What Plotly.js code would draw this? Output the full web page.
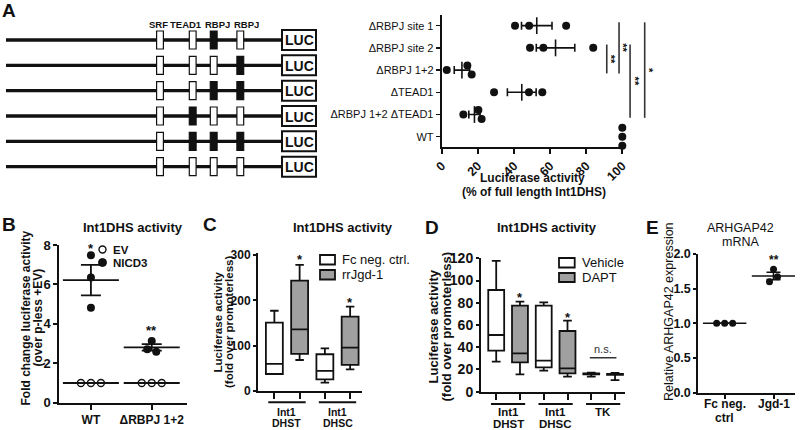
<!DOCTYPE html>
<html><head><meta charset="utf-8">
<script src="https://cdn.plot.ly/plotly-3.0.1.min.js"></script>
<style>html,body{margin:0;padding:0;background:#fff}#chart{width:800px;height:430px}</style>
</head><body><div id="chart"></div>
<script>
// ================= DATA =================
// Panel A (rows listed bottom -> top on the y axis)
const aCategories = ['WT', 'ΔRBPJ 1+2 ΔTEAD1', 'ΔTEAD1', 'ΔRBPJ 1+2', 'ΔRBPJ site 2', 'ΔRBPJ site 1'];
const aWT = [100, 100, 100];
const aRbpj12Tead1 = [12.0, 20.3, 22.1];
const aTead1 = [29.0, 48.3, 55.7];
const aRbpj12 = [2.8, 14.2, 16.6];
const aSite2 = [48.9, 56.3, 83.9];
const aSite1 = [40.6, 48.4, 68.9];
const aXTicks = [0, 20, 40, 60, 80, 100];
const aXTitle = ['Luciferase activity', '(% of full length Int1DHS)'];
// significance brackets: [upper row index, lower row index, x position (%), label]
const aSigTop = [4, 5, 4, 5];
const aSigBottom = [3, 3, 1, 1];
const aSigX = [91.4, 98.2, 104.3, 112.4];
const aSigText = ['**', '**', '**', '*'];
// construct schematic (top -> bottom), 1 = mutated site (black)
const siteNames = ['SRF', 'TEAD1', 'RBPJ', 'RBPJ'];
const schematicRows = [[0,0,1,0],[0,0,0,1],[0,0,1,1],[0,1,0,0],[0,1,1,1],[0,0,0,0]];
const reporterName = 'LUC';

// Panel B
const bCategories = ['WT', 'ΔRBPJ 1+2'];
const bEV_WT = [1, 1, 1];
const bEV_Del = [1, 1, 1];
const bNICD3_WT = [7.48, 6.35, 4.82];
const bNICD3_Del = [3.13, 2.71, 2.59];
const bSigText = ['*', '**'];
const bSigY = [8.0, 3.79];
const bSeries = ['EV', 'NICD3'];

// Panel C (box stats)
const cGroups = ['DHST', 'DHSC'];
const cSeries = ['Fc neg. ctrl.', 'rrJgd-1'];
const cYTicks = [0, 100, 200, 300];
const cFcLower = [37.5, 18.4], cFcQ1 = [37.5, 25.8], cFcMedian = [59.6, 44.2], cFcQ3 = [150.8, 81.0], cFcUpper = [177, 94.2];
const cJgLower = [68.4, 47.9], cJgQ1 = [81.7, 57.4], cJgMedian = [136, 95.6], cJgQ3 = [243.5, 164], cJgUpper = [278, 186];
const cSigY = [296, 201];

// Panel D (box stats)
const dGroups = ['DHST', 'DHSC', 'TK'];
const dGroupPrefix = ['Int1', 'Int1', ''];
const dSeries = ['Vehicle', 'DAPT'];
const dVehLower = [27.0, 18.9, 13.5], dVehQ1 = [36.9, 21.9, 15.5], dVehMedian = [51.0, 27.9, 16.0], dVehQ3 = [91.5, 77.4, 16.5], dVehUpper = [117.6, 80.4, 17.1];
const dDaLower = [15.6, 13.5, 10.5], dDaQ1 = [26.4, 16.5, 15.2], dDaMedian = [34.5, 21.0, 15.6], dDaQ3 = [77.4, 54.6, 16.0], dDaUpper = [81.0, 63.9, 17.0];
const dSigText = ['*', '*', 'n.s.'];
const dSigY = [87, 69, 38];
const dNsLineY = 30.6;

// Panel E
const eCategories = ['Fc neg.', 'Jgd-1'];
const eCategories2 = ['ctrl', ''];
const eFc = [1, 1, 1];
const eJgd = [1.78, 1.67, 1.60];
const eSigY = 1.96;

// ================= HELPERS =================
const W = 800, H = 430;
const FONT = 'Liberation Sans, Arial, Helvetica, sans-serif';
const NARROW = 'Liberation Sans Narrow, Liberation Sans, Arial, sans-serif';
const INK = '#111111';
const GRAY = '#a0a0a0';

// panel frames (pixels) and ranges
const P = {
  A: {ax: '', dx: [441.7, 622.3], dy: [15, 146.7], rx: [0, 100], ry: [-0.45, 5.48]},
  B: {ax: '2', dx: [59.3, 187], dy: [245, 402.7], rx: [-0.52, 1.58], ry: [0, 8]},
  C: {ax: '3', dx: [258, 362], dy: [255, 391], rx: [-0.574, 1.485], ry: [0, 305]},
  D: {ax: '4', dx: [481, 625], dy: [258.3, 391.7], rx: [-0.57, 2.46], ry: [0, 120]},
  E: {ax: '5', dx: [698.3, 795], dy: [254, 392.6], rx: [-0.54, 1.44], ry: [0, 2]}
};
P.C.dy = [252.7, 391];
const pxPerX = p => (P[p].dx[1] - P[p].dx[0]) / (P[p].rx[1] - P[p].rx[0]);
const pxPerY = p => (P[p].dy[1] - P[p].dy[0]) / (P[p].ry[1] - P[p].ry[0]);
const toPX = (p, x) => P[p].dx[0] + (x - P[p].rx[0]) * pxPerX(p);
const toPY = (p, y) => P[p].dy[1] - (y - P[p].ry[0]) * pxPerY(p);

const mean = a => a.reduce((s, v) => s + v, 0) / a.length;
const sem = a => { const m = mean(a); const v = a.reduce((s, x) => s + (x - m) * (x - m), 0) / (a.length - 1); return Math.sqrt(v / a.length); };

// simple symmetric swarm: points closer than a marker diameter are spread across the category
function swarm(vals, pxPerVal, diam, stepPx, pxPerCat, dir) {
  const idx = vals.map((v, i) => i).sort((a, b) => vals[a] - vals[b]);
  const off = new Array(vals.length).fill(0);
  let cl = [idx[0]];
  const flush = () => { const n = cl.length; cl.forEach((k, j) => { off[k] = dir * (j - (n - 1) / 2) * stepPx / pxPerCat; }); };
  for (let t = 1; t < idx.length; t++) {
    if (Math.abs(vals[idx[t]] - vals[idx[t - 1]]) * pxPerVal < diam) cl.push(idx[t]);
    else { flush(); cl = [idx[t]]; }
  }
  flush();
  return off;
}

function axis(p, which, extra) {
  const d = P[p];
  const dom = which === 'x' ? [d.dx[0] / W, d.dx[1] / W] : [1 - d.dy[1] / H, 1 - d.dy[0] / H];
  return Object.assign({
    domain: dom, range: which === 'x' ? d.rx : d.ry, anchor: (which === 'x' ? 'y' : 'x') + d.ax,
    showline: true, linecolor: INK, linewidth: 2, ticks: 'outside', tickcolor: INK, tickwidth: 2, ticklen: 5,
    showgrid: false, zeroline: false, fixedrange: true, showticklabels: true,
    tickfont: {family: FONT, size: 13, color: INK, weight: 'bold'}
  }, extra || {});
}
function txt(text, x, y, o) {
  o = o || {};
  const f = Object.assign({family: FONT, size: 12, color: INK, weight: 'bold'}, o.font || {});
  const a = Object.assign({text: text, x: x / W, y: 1 - y / H, xref: 'paper', yref: 'paper', showarrow: false,
    xanchor: 'center', yanchor: 'middle'}, o);
  a.font = f;
  return a;
}
// text placed at a data x on an axis, pixel y
function xtxt(text, xref, x, y, size) {
  return {text: text, x: x, y: 1 - y / H, xref: xref, yref: 'paper', showarrow: false, xanchor: 'center', yanchor: 'middle',
    font: {family: FONT, size: size, color: INK, weight: 'bold'}};
}
function pline(x0, y0, x1, y1, w, c) {
  return {type: 'line', xref: 'paper', yref: 'paper', x0: x0 / W, y0: 1 - y0 / H, x1: x1 / W, y1: 1 - y1 / H, line: {color: c || INK, width: w}};
}
function prect(x0, y0, x1, y1, fill, w) {
  return {type: 'rect', xref: 'paper', yref: 'paper', x0: x0 / W, y0: 1 - y0 / H, x1: x1 / W, y1: 1 - y1 / H, fillcolor: fill, line: {color: INK, width: w}};
}
function star(text, xref, yref, x, y, size, extra) {
  return Object.assign({text: text, x: x, y: y, xref: xref, yref: yref, showarrow: false, xanchor: 'center', yanchor: 'middle', yshift: -3,
    font: {family: FONT, size: size, color: INK, weight: 'bold'}}, extra || {});
}

const traces = [], shapes = [], annotations = [];

// ================= PANEL A =================
const aRows = [aWT, aRbpj12Tead1, aTead1, aRbpj12, aSite2, aSite1];
{
  const xs = [], ys = [], mx = [], my = [], me = [];
  aRows.forEach((vals, i) => {
    const off = swarm(vals, pxPerX('A'), 8, 9, pxPerY('A'), -1);
    vals.forEach((v, k) => { xs.push(v); ys.push(i + off[k]); });
    const s = sem(vals);
    if (s > 0) { mx.push(mean(vals)); my.push(i); me.push(s); }
  });
  traces.push({type: 'scatter', mode: 'markers', x: mx, y: my, xaxis: 'x', yaxis: 'y', cliponaxis: false,
    marker: {symbol: 'line-ns', size: 12, line: {color: INK, width: 1.6}},
    error_x: {type: 'data', array: me, visible: true, width: 4, thickness: 1.6, color: INK}, hoverinfo: 'skip'});
  traces.push({type: 'scatter', mode: 'markers', x: xs, y: ys, xaxis: 'x', yaxis: 'y', cliponaxis: false,
    marker: {size: 8, color: INK}, hoverinfo: 'skip'});
}
// significance brackets (drawn outside the axis range, so placed through the axis scale in paper space)
aSigX.forEach((x, i) => {
  const xp = toPX('A', x);
  shapes.push(pline(xp, toPY('A', aSigTop[i] + 0.15), xp, toPY('A', aSigBottom[i] - 0.15), 1.6, '#333'));
  annotations.push(txt(aSigText[i], xp + 4.5, toPY('A', (aSigTop[i] + aSigBottom[i]) / 2), {textangle: 90, font: {size: 11}}));
});
// schematic
const rowY = [40, 65.3, 90.7, 116, 141.3, 166.7];
const siteX = [160, 192.7, 213.7, 240.3];
const siteLabelX = [158, 185.5, 217, 246.5];
schematicRows.forEach((row, r) => {
  const y = rowY[r];
  shapes.push(pline(6, y, 282, y, 3.3));
  row.forEach((m, k) => shapes.push(prect(siteX[k] - 3.4, y - 9, siteX[k] + 3.4, y + 9, m ? INK : '#ffffff', 1.2)));
  shapes.push(prect(282, y - 10, 316, y + 10, '#ffffff', 2));
  annotations.push(txt(reporterName, 299, y + 0.5, {font: {size: 14}}));
});
siteNames.forEach((n, k) => annotations.push(txt(n, siteLabelX[k], 24, {font: {family: NARROW, size: 9.5}})));
annotations.push(txt(aXTitle[0], 532, 178));
annotations.push(txt(aXTitle[1], 534, 192));

// ================= PANEL B =================
{
  const evx = [], evy = [], nx = [], ny = [];
  const ev = [bEV_WT, bEV_Del], ni = [bNICD3_WT, bNICD3_Del];
  ev.forEach((vals, c) => { const o = swarm(vals, pxPerY('B'), 8, 10, pxPerX('B'), -1); vals.forEach((v, k) => { evx.push(c + o[k]); evy.push(v); }); });
  ni.forEach((vals, c) => { const o = swarm(vals, pxPerY('B'), 8, 9, pxPerX('B'), -1); vals.forEach((v, k) => { nx.push(c + o[k]); ny.push(v); }); });
  traces.push({type: 'scatter', mode: 'markers', x: [0, 1], y: ev.map(mean), xaxis: 'x2', yaxis: 'y2',
    marker: {symbol: 'line-ew', size: 40, line: {color: INK, width: 1.8}}, hoverinfo: 'skip'});
  traces.push({type: 'scatter', mode: 'markers', x: [0, 1], y: ni.map(mean), xaxis: 'x2', yaxis: 'y2',
    marker: {symbol: 'line-ew', size: 40, line: {color: INK, width: 1.8}},
    error_y: {type: 'data', array: ni.map(sem), visible: true, width: 10, thickness: 1.8, color: INK}, hoverinfo: 'skip'});
  traces.push({type: 'scatter', mode: 'markers', x: evx, y: evy, xaxis: 'x2', yaxis: 'y2', name: bSeries[0],
    marker: {symbol: 'circle-open', size: 7, color: INK, line: {width: 1.4}}, hoverinfo: 'skip'});
  traces.push({type: 'scatter', mode: 'markers', x: nx, y: ny, xaxis: 'x2', yaxis: 'y2', name: bSeries[1],
    marker: {symbol: 'circle', size: 8, color: INK}, hoverinfo: 'skip'});
  bSigText.forEach((t, i) => annotations.push(star(t, 'x2', 'y2', i, bSigY[i], 13)));
}
annotations.push(txt('Int1DHS activity', 133, 227, {font: {size: 13}}));
annotations.push(txt('Fold change luciferase activity', 25.5, 318, {textangle: -90}));
annotations.push(txt('(over p-less +EV)', 37.5, 318, {textangle: -90}));
shapes.push({type: 'circle', xref: 'paper', yref: 'paper', x0: 99 / W, x1: 106 / W, y0: 1 - 253 / H, y1: 1 - 246 / H, line: {color: INK, width: 1.4}, fillcolor: '#ffffff'});
shapes.push({type: 'circle', xref: 'paper', yref: 'paper', x0: 98.5 / W, x1: 106.5 / W, y0: 1 - 266.5 / H, y1: 1 - 258.5 / H, line: {color: INK, width: 1}, fillcolor: INK});
annotations.push(txt(bSeries[0], 111, 249.5, {xanchor: 'left', font: {size: 11.5}}));
annotations.push(txt(bSeries[1], 111, 262.5, {xanchor: 'left', font: {size: 11.5}}));

// ================= PANEL C =================
const boxCommon = {line: {color: INK, width: 1.8}, boxpoints: false, hoverinfo: 'skip'};
traces.push(Object.assign({type: 'box', name: cSeries[0], x: [0, 1], q1: cFcQ1, median: cFcMedian, q3: cFcQ3, lowerfence: cFcLower, upperfence: cFcUpper,
  xaxis: 'x3', yaxis: 'y3', fillcolor: '#ffffff', whiskerwidth: 0.5, alignmentgroup: 'C', offsetgroup: '1'}, boxCommon));
traces.push(Object.assign({type: 'box', name: cSeries[1], x: [0, 1], q1: cJgQ1, median: cJgMedian, q3: cJgQ3, lowerfence: cJgLower, upperfence: cJgUpper,
  xaxis: 'x3', yaxis: 'y3', fillcolor: GRAY, whiskerwidth: 0.5, alignmentgroup: 'C', offsetgroup: '2'}, boxCommon));
cSigY.forEach((y, i) => annotations.push(star('*', 'x3', 'y3', i + 0.25, y, 13)));
cGroups.forEach((g, i) => {
  shapes.push({type: 'line', xref: 'x3', yref: 'paper', x0: i - 0.37, x1: i + 0.37, y0: 1 - 402.3 / H, y1: 1 - 402.3 / H, line: {color: INK, width: 2}});
  annotations.push(xtxt('Int1', 'x3', i, 411.7, 10.5));
  annotations.push(xtxt(g, 'x3', i, 423.3, 10.5));
});
annotations.push(txt('Int1DHS activity', 343, 227, {font: {size: 13}}));
annotations.push(txt('Luciferase activity', 217.5, 322, {textangle: -90, font: {size: 11.5}}));
annotations.push(txt('(fold over promoterless)', 229, 322, {textangle: -90, font: {size: 11.5}}));
shapes.push(prect(320, 255, 335, 264.5, '#ffffff', 1.8));
shapes.push(prect(320, 270, 335, 279.5, GRAY, 1.8));
annotations.push(txt(cSeries[0], 340, 259.5, {xanchor: 'left', font: {size: 13, weight: 'normal'}}));
annotations.push(txt(cSeries[1], 340, 274.5, {xanchor: 'left', font: {size: 13, weight: 'normal'}}));

// ================= PANEL D =================
traces.push(Object.assign({type: 'box', name: dSeries[0], x: [0, 1, 2], q1: dVehQ1, median: dVehMedian, q3: dVehQ3, lowerfence: dVehLower, upperfence: dVehUpper,
  xaxis: 'x4', yaxis: 'y4', fillcolor: '#ffffff', whiskerwidth: 0.55, alignmentgroup: 'D', offsetgroup: '1'}, boxCommon));
traces.push(Object.assign({type: 'box', name: dSeries[1], x: [0, 1, 2], q1: dDaQ1, median: dDaMedian, q3: dDaQ3, lowerfence: dDaLower, upperfence: dDaUpper,
  xaxis: 'x4', yaxis: 'y4', fillcolor: GRAY, whiskerwidth: 0.55, alignmentgroup: 'D', offsetgroup: '2'}, boxCommon));
annotations.push(star(dSigText[0], 'x4', 'y4', 0.25, dSigY[0], 13));
annotations.push(star(dSigText[1], 'x4', 'y4', 1.25, dSigY[1], 13));
annotations.push(star(dSigText[2], 'x4', 'y4', 2, dSigY[2], 11, {yshift: 0, font: {family: FONT, size: 11, color: '#333', weight: 'normal'}}));
shapes.push({type: 'line', xref: 'x4', yref: 'y4', x0: 1.72, x1: 2.28, y0: dNsLineY, y1: dNsLineY, line: {color: '#333', width: 1.4}});
dGroups.forEach((g, i) => {
  shapes.push({type: 'line', xref: 'x4', yref: 'paper', x0: i - 0.36, x1: i + 0.36, y0: 1 - 404 / H, y1: 1 - 404 / H, line: {color: INK, width: 2}});
  if (dGroupPrefix[i]) {
    annotations.push(xtxt(dGroupPrefix[i], 'x4', i, 412.3, 11.5));
    annotations.push(xtxt(g, 'x4', i, 424, 11.5));
  } else {
    annotations.push(xtxt(g, 'x4', i, 412.3, 11.5));
  }
});
annotations.push(txt('Int1DHS activity', 547, 227, {font: {size: 13}}));
annotations.push(txt('Luciferase activity', 432.5, 327, {textangle: -90, font: {size: 13}}));
annotations.push(txt('(fold over promoterless)', 445.5, 327, {textangle: -90, font: {size: 13}}));
shapes.push(prect(559, 258, 574.7, 267.5, '#ffffff', 1.8));
shapes.push(prect(559, 273, 574.7, 282, GRAY, 1.8));
annotations.push(txt(dSeries[0], 580, 262.5, {xanchor: 'left', font: {size: 13, weight: 'normal'}}));
annotations.push(txt(dSeries[1], 580, 277.5, {xanchor: 'left', font: {size: 13, weight: 'normal'}}));

// ================= PANEL E =================
{
  const ex = [], ey = [];
  [eFc, eJgd].forEach((vals, c) => { const o = swarm(vals, pxPerY('E'), 7, 8, pxPerX('E'), 1); vals.forEach((v, k) => { ex.push(c + o[k]); ey.push(v); }); });
  traces.push({type: 'scatter', mode: 'markers', x: [0, 1], y: [mean(eFc), mean(eJgd)], xaxis: 'x5', yaxis: 'y5',
    marker: {symbol: 'line-ew', size: 31, line: {color: INK, width: 1.6}},
    error_y: {type: 'data', array: [sem(eFc), sem(eJgd)], visible: true, width: 7, thickness: 1.6, color: INK}, hoverinfo: 'skip'});
  traces.push({type: 'scatter', mode: 'markers', x: ex, y: ey, xaxis: 'x5', yaxis: 'y5',
    marker: {size: 7, color: INK}, hoverinfo: 'skip'});
  annotations.push(star('**', 'x5', 'y5', 1, eSigY, 12));
  eCategories.forEach((c, i) => {
    annotations.push(xtxt(c, 'x5', i, 404, 12));
    if (eCategories2[i]) annotations.push(xtxt(eCategories2[i], 'x5', i, 417.5, 12));
  });
}
annotations.push(txt('ARHGAP42', 740, 228.3, {font: {size: 12.5, weight: 'normal'}}));
annotations.push(txt('mRNA', 740, 241.7, {font: {size: 12.5, weight: 'normal'}}));
annotations.push(txt('Relative ARHGAP42 expression', 669, 312, {textangle: -90, font: {size: 12.5, weight: 'normal'}}));

// panel letters
[['A', 9, 11], ['B', 9, 224], ['C', 210, 224], ['D', 432, 227], ['E', 652, 227]].forEach(l =>
  annotations.push(txt(l[0], l[1], l[2], {font: {size: 19}})));

// ================= LAYOUT =================
const layout = {
  width: W, height: H, margin: {l: 0, r: 0, t: 0, b: 0}, paper_bgcolor: '#ffffff', plot_bgcolor: 'rgba(0,0,0,0)',
  showlegend: false, hovermode: false, boxmode: 'group', boxgap: 0, boxgroupgap: 0.33,
  font: {family: FONT, color: INK},
  xaxis: axis('A', 'x', {tickvals: aXTicks, tickangle: -45, tickfont: {family: FONT, size: 12.5, color: INK, weight: 'bold'}}),
  yaxis: axis('A', 'y', {tickvals: aCategories.map((c, i) => i), ticktext: aCategories, ticklen: 4, tickwidth: 1.5,
    tickfont: {family: FONT, size: 11, color: INK}}),
  xaxis2: axis('B', 'x', {tickvals: [0, 1], ticktext: bCategories, tickfont: {family: FONT, size: 12, color: INK, weight: 'bold'}}),
  yaxis2: axis('B', 'y', {dtick: 2, tick0: 0, ticklen: 4}),
  xaxis3: axis('C', 'x', {tickvals: [-0.25, 0.25, 0.75, 1.25], ticktext: ['', '', '', ''], ticklen: 6}),
  yaxis3: axis('C', 'y', {tickmode: 'array', tickvals: cYTicks, ticktext: cYTicks.map(String), ticklen: 3,
    tickfont: {family: FONT, size: 12, color: INK, weight: 'bold'}}),
  xaxis4: axis('D', 'x', {tickvals: [-0.25, 0.25, 0.75, 1.25, 1.75, 2.25], ticktext: ['', '', '', '', '', ''], ticklen: 6}),
  yaxis4: axis('D', 'y', {dtick: 20, tick0: 0, ticklen: 3, tickfont: {family: FONT, size: 14, color: INK, weight: 'bold'}}),
  xaxis5: axis('E', 'x', {tickvals: [0, 1], ticktext: ['', ''], ticklen: 4}),
  yaxis5: axis('E', 'y', {dtick: 0.5, tick0: 0, tickformat: '.1f', ticklen: 3, tickfont: {family: FONT, size: 12.5, color: INK, weight: 'bold'}}),
  shapes: shapes, annotations: annotations
};

Plotly.newPlot('chart', traces, layout, {staticPlot: true, displayModeBar: false});
</script></body></html>
